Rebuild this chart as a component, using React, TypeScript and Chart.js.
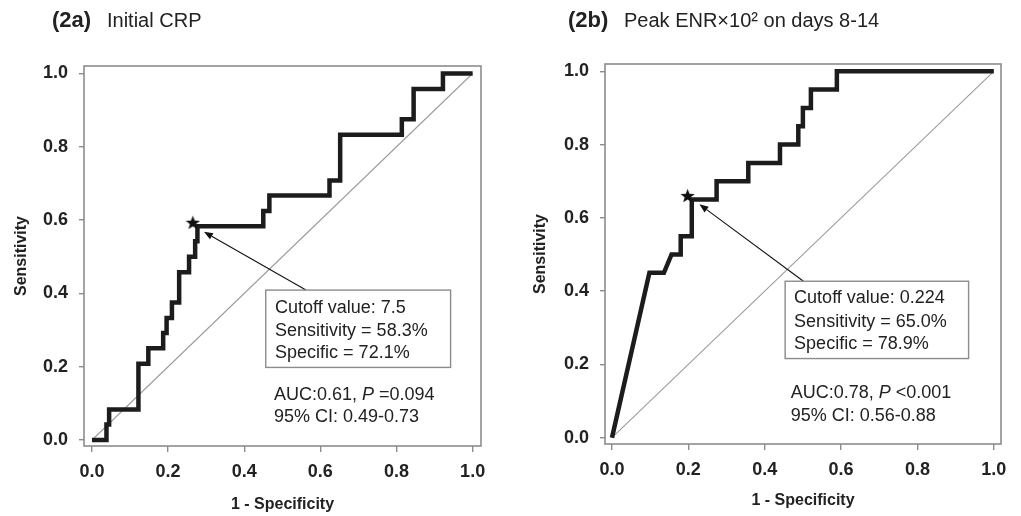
import React, { useEffect, useRef } from "react";
import { Chart, registerables } from "chart.js";

Chart.register(...registerables);

const FONT = '"Liberation Sans", Arial, Helvetica, sans-serif';
const INK = "#1c1c1c";
const TEXT = "#222222";
const FRAME = "#8c8c8c";
const DIAG = "#9c9c9c";

// axis ticks and titles
const tickValues = [0, 0.2, 0.4, 0.6, 0.8, 1.0];
const tickLabels = ["0.0", "0.2", "0.4", "0.6", "0.8", "1.0"];
const xAxisTitle = "1 - Specificity";
const yAxisTitle = "Sensitivity";

// reference diagonal
const diagX = [0, 1];
const diagY = [0, 1];

// (2a) Initial CRP – ROC vertices (1 - specificity, sensitivity)
const crpFpr = [
  0, 0.038, 0.038, 0.045, 0.045, 0.122, 0.122, 0.148, 0.148, 0.187, 0.187,
  0.196, 0.196, 0.21, 0.21, 0.229, 0.229, 0.255, 0.255, 0.271, 0.271, 0.277,
  0.277, 0.45, 0.45, 0.466, 0.466, 0.624, 0.624, 0.652, 0.652, 0.814, 0.814,
  0.845, 0.845, 0.922, 0.922, 1.0,
];
const crpTpr = [
  0, 0, 0.042, 0.042, 0.083, 0.083, 0.208, 0.208, 0.25, 0.25, 0.292, 0.292,
  0.333, 0.333, 0.375, 0.375, 0.458, 0.458, 0.5, 0.5, 0.542, 0.542, 0.583,
  0.583, 0.625, 0.625, 0.667, 0.667, 0.708, 0.708, 0.833, 0.833, 0.875, 0.875,
  0.958, 0.958, 1.0, 1.0,
];
const crpCutoffPoint = [0.265, 0.594];
const crpTitleBold = "(2a)";
const crpTitle = "Initial CRP";
const crpBoxLines = ["Cutoff value: 7.5", "Sensitivity = 58.3%", "Specific = 72.1%"];
const crpAucLine = ["AUC:0.61, ", "P", " =0.094"];
const crpCiLine = "95% CI: 0.49-0.73";

// (2b) Peak ENR x10^2 on days 8-14 – ROC vertices
const enrFpr = [
  0, 0.098, 0.136, 0.156, 0.18, 0.18, 0.209, 0.209, 0.274, 0.274, 0.357, 0.357,
  0.44, 0.44, 0.488, 0.488, 0.5, 0.5, 0.521, 0.521, 0.589, 0.589, 1.0,
];
const enrTpr = [
  0, 0.45, 0.45, 0.5, 0.5, 0.55, 0.55, 0.65, 0.65, 0.7, 0.7, 0.75, 0.75, 0.8,
  0.8, 0.85, 0.85, 0.9, 0.9, 0.95, 0.95, 1.0, 1.0,
];
const enrCutoffPoint = [0.198, 0.661];
const enrTitleBold = "(2b)";
const enrTitle = "Peak ENR\u00d710\u00b2 on days 8-14";
const enrBoxLines = ["Cutoff value: 0.224", "Sensitivity = 65.0%", "Specific = 78.9%"];
const enrAucLine = ["AUC:0.78, ", "P", " <0.001"];
const enrCiLine = "95% CI: 0.56-0.88";

type Panel = {
  fpr: number[];
  tpr: number[];
  cutoff: number[];
  titleBold: string;
  title: string;
  boxLines: string[];
  aucLine: string[];
  ciLine: string;
  layout: {
    width: number;
    left: number;
    padTop: number;
    padRight: number;
    yAxisW: number;
    xAxisH: number;
    xRange: number[];
    yRange: number[];
    xTitlePad: number;
    yTitlePad: number;
    titleX: number[];
    box: number[]; // x0, x1, y0, y1 in data units
    textX: number;
    textY: number[];
    aucX: number;
    aucY: number[];
    arrowFrom: number[];
    arrowTo: number[];
  };
};

const panels: Panel[] = [
  {
    fpr: crpFpr,
    tpr: crpTpr,
    cutoff: crpCutoffPoint,
    titleBold: crpTitleBold,
    title: crpTitle,
    boxLines: crpBoxLines,
    aucLine: crpAucLine,
    ciLine: crpCiLine,
    layout: {
      width: 510,
      left: 0,
      padTop: 66,
      padRight: 29,
      yAxisW: 84,
      xAxisH: 70,
      xRange: [-0.021, 1.022],
      yRange: [-0.0164, 1.0205],
      xTitlePad: 2,
      yTitlePad: 12,
      titleX: [52, 107],
      box: [0.4565, 0.9421, 0.198, 0.409],
      textX: 0.481,
      textY: [0.359, 0.298, 0.237],
      aucX: 0.478,
      aucY: [0.123, 0.062],
      arrowFrom: [0.562, 0.409],
      arrowTo: [0.294, 0.568],
    },
  },
  {
    fpr: enrFpr,
    tpr: enrTpr,
    cutoff: enrCutoffPoint,
    titleBold: enrTitleBold,
    title: enrTitle,
    boxLines: enrBoxLines,
    aucLine: enrAucLine,
    ciLine: enrCiLine,
    layout: {
      width: 511,
      left: 510,
      padTop: 64,
      padRight: 20,
      yAxisW: 95,
      xAxisH: 72,
      xRange: [-0.0183, 1.0189],
      yRange: [-0.0172, 1.0199],
      xTitlePad: 6,
      yTitlePad: 21,
      titleX: [58, 114],
      box: [0.4535, 0.934, 0.216, 0.427],
      textX: 0.477,
      textY: [0.38, 0.316, 0.255],
      aucX: 0.468,
      aucY: [0.123, 0.059],
      arrowFrom: [0.5015, 0.427],
      arrowTo: [0.229, 0.637],
    },
  },
];

function makeStar(size: number): HTMLCanvasElement {
  const c = document.createElement("canvas");
  c.width = size;
  c.height = size;
  const g = c.getContext("2d")!;
  const cx = size / 2;
  const cy = size / 2 + 0.8;
  const R = size / 2;
  const r = R * 0.42;
  g.beginPath();
  for (let i = 0; i < 10; i++) {
    const ang = -Math.PI / 2 + (i * Math.PI) / 5;
    const rad = i % 2 === 0 ? R : r;
    const x = cx + rad * Math.cos(ang);
    const y = cy + rad * Math.sin(ang);
    if (i === 0) g.moveTo(x, y);
    else g.lineTo(x, y);
  }
  g.closePath();
  g.fillStyle = "#111";
  g.fill();
  return c;
}

function makeDecor(p: Panel) {
  const L = p.layout;
  return {
    id: "rocDecor",
    beforeDatasetsDraw(chart: any) {
      const { ctx, chartArea: a } = chart;
      ctx.save();
      ctx.strokeStyle = FRAME;
      ctx.lineWidth = 1.6;
      ctx.strokeRect(a.left, a.top, a.right - a.left, a.bottom - a.top);
      ctx.restore();
    },
    afterDatasetsDraw(chart: any) {
      const { ctx } = chart;
      const xs = chart.scales.x;
      const ys = chart.scales.y;
      const px = (v: number) => xs.getPixelForValue(v);
      const py = (v: number) => ys.getPixelForValue(v);
      ctx.save();
      // arrow
      const fx = px(L.arrowFrom[0]);
      const fy = py(L.arrowFrom[1]);
      const tx = px(L.arrowTo[0]);
      const ty = py(L.arrowTo[1]);
      const ang = Math.atan2(ty - fy, tx - fx);
      const headLen = 9;
      const headW = 3.5;
      const bx = tx - headLen * Math.cos(ang);
      const by = ty - headLen * Math.sin(ang);
      ctx.strokeStyle = "#111";
      ctx.lineWidth = 1.1;
      ctx.beginPath();
      ctx.moveTo(fx, fy);
      ctx.lineTo(bx, by);
      ctx.stroke();
      ctx.fillStyle = "#111";
      ctx.beginPath();
      ctx.moveTo(tx, ty);
      ctx.lineTo(bx + headW * Math.sin(ang), by - headW * Math.cos(ang));
      ctx.lineTo(bx - headW * Math.sin(ang), by + headW * Math.cos(ang));
      ctx.closePath();
      ctx.fill();
      // box
      const x0 = px(L.box[0]);
      const x1 = px(L.box[1]);
      const yTop = py(L.box[3]);
      const yBot = py(L.box[2]);
      ctx.fillStyle = "#ffffff";
      ctx.fillRect(x0, yTop, x1 - x0, yBot - yTop);
      ctx.strokeStyle = FRAME;
      ctx.lineWidth = 1.4;
      ctx.strokeRect(x0, yTop, x1 - x0, yBot - yTop);
      // box text
      ctx.fillStyle = TEXT;
      ctx.textBaseline = "middle";
      ctx.textAlign = "left";
      ctx.font = `18px ${FONT}`;
      p.boxLines.forEach((s, i) => ctx.fillText(s, px(L.textX), py(L.textY[i])));
      // AUC line with italic P
      let cx = px(L.aucX);
      const ay = py(L.aucY[0]);
      p.aucLine.forEach((seg, i) => {
        ctx.font = i === 1 ? `italic 18px ${FONT}` : `18px ${FONT}`;
        ctx.fillText(seg, cx, ay);
        cx += ctx.measureText(seg).width;
      });
      ctx.font = `18px ${FONT}`;
      ctx.fillText(p.ciLine, px(L.aucX), py(L.aucY[1]));
      ctx.restore();
    },
    afterDraw(chart: any) {
      const { ctx } = chart;
      ctx.save();
      ctx.fillStyle = TEXT;
      ctx.textBaseline = "alphabetic";
      ctx.textAlign = "left";
      ctx.font = `bold 22px ${FONT}`;
      ctx.fillText(p.titleBold, L.titleX[0], 27);
      ctx.font = `20px ${FONT}`;
      ctx.fillText(p.title, L.titleX[1], 27);
      ctx.restore();
    },
  };
}

function buildConfig(p: Panel, star: HTMLCanvasElement): any {
  const L = p.layout;
  const tickFont = { family: FONT, size: 18, weight: "bold" as const };
  const titleFont = { family: FONT, size: 16, weight: "bold" as const };
  const setTicks = (s: any) => {
    s.ticks = tickValues.map((v) => ({ value: v }));
  };
  const fmt = (_v: any, i: number) => tickLabels[i];
  return {
    type: "scatter",
    data: {
      datasets: [
        {
          label: "ROC",
          data: p.fpr.map((v, i) => ({ x: v, y: p.tpr[i] })),
          showLine: true,
          borderColor: INK,
          borderWidth: 4.5,
          borderJoinStyle: "miter",
          borderCapStyle: "butt",
          pointRadius: 0,
          tension: 0,
          order: 1,
        },
        {
          label: "Cutoff",
          data: [{ x: p.cutoff[0], y: p.cutoff[1] }],
          pointStyle: star,
          pointRadius: 7,
          order: 0,
        },
        {
          label: "Reference",
          data: diagX.map((v, i) => ({ x: v, y: diagY[i] })),
          showLine: true,
          borderColor: DIAG,
          borderWidth: 1.1,
          pointRadius: 0,
          order: 2,
        },
      ],
    },
    options: {
      responsive: false,
      animation: false,
      events: [],
      layout: { padding: { left: 0, top: L.padTop, right: L.padRight, bottom: 0 } },
      plugins: { legend: { display: false }, tooltip: { enabled: false }, title: { display: false } },
      scales: {
        x: {
          type: "linear",
          min: L.xRange[0],
          max: L.xRange[1],
          afterBuildTicks: setTicks,
          afterFit: (s: any) => {
            s.height = L.xAxisH;
          },
          ticks: { callback: fmt, font: tickFont, color: TEXT, padding: 9, maxRotation: 0, autoSkip: false },
          grid: { drawOnChartArea: false, drawTicks: true, tickLength: 6, color: FRAME, lineWidth: 1.4 },
          border: { display: false },
          title: { display: true, text: xAxisTitle, font: titleFont, color: TEXT, padding: { top: 0, bottom: L.xTitlePad } },
        },
        y: {
          type: "linear",
          min: L.yRange[0],
          max: L.yRange[1],
          afterBuildTicks: setTicks,
          afterFit: (s: any) => {
            s.width = L.yAxisW;
          },
          ticks: { callback: fmt, font: tickFont, color: TEXT, padding: 11, autoSkip: false },
          grid: { drawOnChartArea: false, drawTicks: true, tickLength: 5, color: FRAME, lineWidth: 1.4 },
          border: { display: false },
          title: { display: true, text: yAxisTitle, font: titleFont, color: TEXT, padding: { top: L.yTitlePad, bottom: 0 } },
        },
      },
    },
    plugins: [makeDecor(p)],
  };
}

function RocPanel({ panel }: { panel: Panel }) {
  const ref = useRef<HTMLCanvasElement | null>(null);
  useEffect(() => {
    if (!ref.current) return;
    const chart = new Chart(ref.current, buildConfig(panel, makeStar(15)));
    return () => chart.destroy();
  }, [panel]);
  const L = panel.layout;
  return (
    <canvas
      ref={ref}
      width={L.width}
      height={516}
      style={{ position: "absolute", left: L.left, top: 0, width: L.width, height: 516 }}
    />
  );
}

export default function App() {
  return (
    <div style={{ position: "absolute", left: 0, top: 0, width: 1021, height: 516, background: "#fff", overflow: "hidden" }}>
      {panels.map((p, i) => (
        <RocPanel key={i} panel={p} />
      ))}
    </div>
  );
}
